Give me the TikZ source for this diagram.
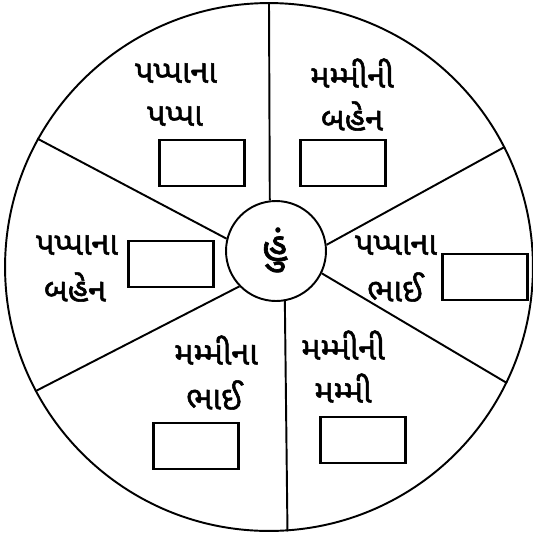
\documentclass[tikz,border=0pt]{standalone}
\usepackage{fontspec}
\newfontfamily\gujfont[Script=Gujarati, FakeBold=1.6]{Noto Sans Gujarati UI}

\begin{document}
\begin{tikzpicture}[x=0.02cm, y=-0.02cm,
    spoke/.style={line width=1.1pt, black},
    lbl/.style={font=\gujfont\fontsize{18.5}{22}\selectfont, inner sep=0pt},
    ansbox/.style={rectangle, draw, line width=1.3pt, minimum width=1.7cm,
                   minimum height=0.93cm, inner sep=0pt},
]
    \useasboundingbox (0,0) rectangle (533,539);

    % wheel and centre
    \node[circle, draw, line width=1.1pt, minimum size=10.56cm, inner sep=0pt] (wheel) at (269,267) {};
    \node[circle, draw, line width=1.1pt, minimum size=2cm, inner sep=0pt] (me) at (276,251) {};
    \node[font=\gujfont\fontsize{23}{27}\selectfont, inner sep=0pt] (metxt) at (275,250) {હું};

    % rim points
    \coordinate (rimN)  at (wheel.90.3);
    \coordinate (rimNW) at (wheel.151.5);
    \coordinate (rimSW) at (wheel.208);
    \coordinate (rimS)  at (wheel.-86.5);
    \coordinate (rimSE) at (wheel.-26.2);
    \coordinate (rimNE) at (wheel.27.5);

    \draw[spoke] (me.97)  -- (rimN);
    \draw[spoke] (me.166) -- (rimNW);
    \draw[spoke] (me.224) -- (rimSW);
    \draw[spoke] (me.280) -- (rimS);
    \draw[spoke] (me.334) -- (rimSE);
    \draw[spoke] (me.7)   -- (rimNE);

    % father's father
    \node[lbl] (ppa1) at (176,73)  {પપ્પાના};
    \node[lbl] (ppa2) at (175,116) {પપ્પા};
    \node[ansbox] (ppabox) at (202,163) {};

    % mother's sister
    \node[lbl] (mbn1) at (352,73)  {મમ્મીની};
    \node[lbl] (mbn2) at (352,116) {બહેન};
    \node[ansbox] (mbnbox) at (343,163) {};

    % father's sister
    \node[lbl] (pbn1) at (77,245) {પપ્પાના};
    \node[lbl] (pbn2) at (75,287) {બહેન};
    \node[ansbox] (pbnbox) at (171,264) {};

    % father's brother
    \node[lbl] (pbh1) at (396,245) {પપ્પાના};
    \node[lbl] (pbh2) at (395,287) {ભાઈ};
    \node[ansbox] (pbhbox) at (485,277) {};

    % mother's brother
    \node[lbl] (mbh1) at (216,350) {મમ્મીના};
    \node[lbl] (mbh2) at (214,395) {ભાઈ};
    \node[ansbox] (mbhbox) at (196,446) {};

    % mother's mother
    \node[lbl] (mmm1) at (343,345) {મમ્મીની};
    \node[lbl] (mmm2) at (343,388) {મમ્મી};
    \node[ansbox] (mmmbox) at (363,440) {};
\end{tikzpicture}
\end{document}
